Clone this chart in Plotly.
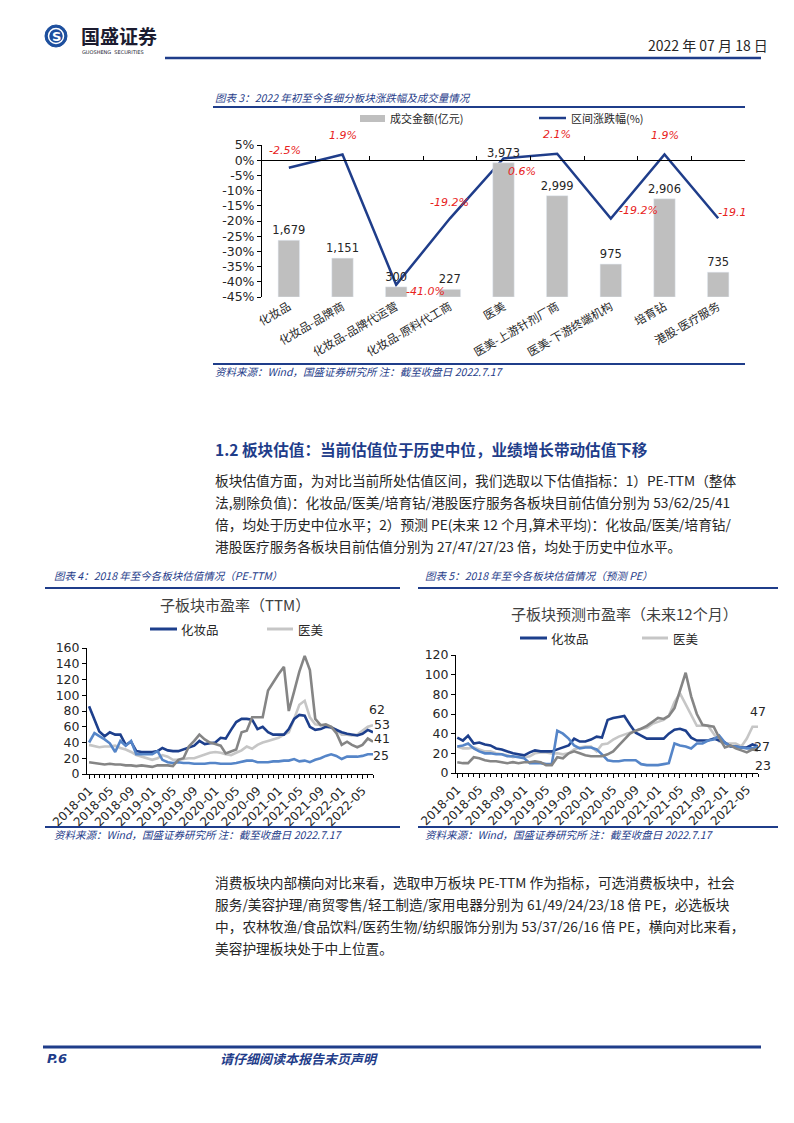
import plotly.graph_objects as go
import pandas as pd

# page is 794x1123; the browser adds an 8px body margin, so the figure is 786x1115
OFF = 8
W, H = 794 - OFF, 1123 - OFF
def X(p): return (p - OFF) / W
def Y(p): return 1 - (p - OFF) / H

CJK = "Noto Sans CJK SC"
LAT = "Tahoma, 'DejaVu Sans', 'Noto Sans CJK SC', sans-serif"
NAVY = "#1f3d8a"
TXT = "#262626"

# ---------------- Chart 1 data ----------------
categories = ["化妆品", "化妆品-品牌商", "化妆品-品牌代运营", "化妆品-原料代工商", "医美",
              "医美-上游针剂厂商", "医美-下游终端机构", "培育钻", "港股-医疗服务"]
turnover = [1679, 1151, 300, 227, 3973, 2999, 975, 2906, 735]
change_pct = [-2.5, 1.9, -41.0, -19.2, 0.6, 2.1, -19.2, 1.9, -19.1]
pct_ticks = [5, 0, -5, -10, -15, -20, -25, -30, -35, -40, -45]

# ---------------- Chart 4 / 5 data (monthly 2018-01 .. 2022-07) ----------------
months = [p.strftime("%Y-%m-01") for p in pd.period_range("2018-01", "2022-07", freq="M")]
tick_months = months[::4]
tick_labels = [m[:7] for m in tick_months]

cos_ttm = [86, 70, 54, 48, 53, 50, 50, 37, 41, 29, 28, 28, 28, 29, 33, 30, 29, 29, 31, 34,
           36, 42, 38, 39, 40, 46, 45, 56, 66, 70, 70, 69, 57, 60, 53, 50, 50, 50, 57, 70,
           75, 74, 60, 56, 57, 60, 59, 56, 53, 51, 50, 49, 51, 56, 53]
med_ttm = [37, 35, 34, 35, 35, 36, 33, 31, 28, 24, 22, 20, 18, 20, 24, 22, 18, 18, 19, 20,
           20, 22, 25, 27, 28, 27, 25, 24, 27, 30, 35, 32, 37, 40, 42, 44, 46, 50, 53, 70,
           88, 93, 72, 63, 62, 61, 60, 56, 50, 50, 49, 50, 55, 60, 62]
diam_ttm = [40, 52, 48, 44, 39, 28, 42, 36, 42, 25, 25, 25, 25, 29, 18, 15, 14, 15, 14, 14,
            13, 13, 13, 14, 14, 13, 13, 13, 14, 16, 17, 17, 15, 15, 15, 16, 16, 17, 17, 19,
            16, 17, 15, 18, 20, 23, 25, 23, 19, 22, 22, 22, 23, 25, 25]
hk_ttm = [15, 14, 13, 12, 13, 12, 12, 11, 11, 10, 11, 10, 9, 11, 11, 11, 10, 18, 20, 35,
          42, 50, 44, 40, 38, 36, 26, 29, 31, 53, 55, 72, 72, 72, 106, 117, 127, 136, 80, 105,
          130, 150, 132, 70, 62, 63, 60, 52, 37, 41, 37, 34, 37, 45, 41]

cos_fwd = [36, 33, 38, 30, 31, 29, 28, 25, 24, 22, 20, 19, 18, 21, 23, 22, 22, 22, 24, 26,
           28, 35, 32, 32, 34, 37, 36, 54, 56, 57, 58, 49, 41, 38, 35, 35, 35, 35, 40, 44,
           45, 43, 36, 33, 33, 33, 35, 33, 31, 27, 27, 26, 26, 29, 27]
med_fwd = [27, 25, 25, 26, 24, 22, 22, 20, 19, 18, 16, 17, 16, 17, 20, 21, 21, 20, 20, 19,
           20, 24, 26, 27, 27, 22, 29, 30, 34, 37, 39, 41, 43, 45, 46, 50, 52, 54, 58, 72,
           81, 70, 58, 48, 48, 48, 40, 32, 30, 30, 30, 27, 35, 47, 47]
diam_fwd = [27, 28, 30, 25, 22, 20, 20, 19, 19, 17, 17, 16, 15, 10, 10, 10, 9, 9, 43, 40,
            35, 28, 25, 26, 26, 24, 19, 13, 12, 12, 13, 13, 13, 9, 8, 8, 8, 9, 10, 30,
            28, 27, 25, 30, 30, 33, 34, 38, 31, 27, 27, 26, 25, 25, 27]
hk_fwd = [11, 10, 10, 16, 15, 13, 12, 12, 11, 10, 11, 10, 11, 11, 12, 11, 8, 8, 16, 15,
          20, 22, 20, 18, 17, 17, 17, 19, 22, 28, 34, 40, 43, 45, 48, 52, 56, 55, 58, 66,
          84, 102, 78, 60, 49, 48, 47, 36, 26, 28, 25, 23, 21, 24, 23]

C_COS, C_MED, C_DIAM, C_HK = "#1d3f8c", "#c6c6c6", "#5585c8", "#858585"

fig = go.Figure()

# ---------------- Chart 1 traces ----------------
fig.add_trace(go.Bar(x=categories, y=turnover, xaxis="x", yaxis="y2", width=0.4,
                     marker_color="#bfbfbf", text=[f"{v:,}" for v in turnover],
                     textposition="outside", cliponaxis=False, constraintext="none",
                     textfont=dict(family=LAT, size=11.5, color=TXT)))
fig.add_trace(go.Scatter(x=categories, y=change_pct, xaxis="x", yaxis="y", mode="lines",
                         line=dict(color=NAVY, width=2.5), cliponaxis=False))
fig.add_trace(go.Scatter(x=categories[-1:], y=change_pct[-1:], xaxis="x", yaxis="y", mode="text",
                         text=[f"{change_pct[-1]:.1f}%"], textposition="top right", cliponaxis=True,
                         textfont=dict(family=LAT, size=11, color="#e8231d", style="italic")))
# carrier for the bottom category labels
fig.add_trace(go.Scatter(x=categories, y=[-45] * len(categories), xaxis="x2", yaxis="y",
                         mode="markers", marker=dict(opacity=0), hoverinfo="skip"))

# ---------------- Chart 4 / 5 traces ----------------
for xa, ya, series in [("x3", "y3", [(med_ttm, C_MED), (cos_ttm, C_COS), (diam_ttm, C_DIAM), (hk_ttm, C_HK)]),
                       ("x4", "y4", [(med_fwd, C_MED), (cos_fwd, C_COS), (diam_fwd, C_DIAM), (hk_fwd, C_HK)])]:
    for vals, col in series:
        fig.add_trace(go.Scatter(x=months, y=vals, xaxis=xa, yaxis=ya, mode="lines",
                                 line=dict(color=col, width=2.6)))

y1_dom = [Y(297), Y(145)]
zero_pos = y1_dom[0] + (45 / 50) * (y1_dom[1] - y1_dom[0])
axfont = dict(family=LAT, size=12.5, color=TXT)

fig.update_layout(
    width=W, height=H, margin=dict(l=0, r=0, t=0, b=0, autoexpand=False), autosize=False,
    paper_bgcolor="white", plot_bgcolor="rgba(0,0,0,0)", showlegend=False,
    xaxis=dict(domain=[X(262), X(745)], anchor="free", position=zero_pos, type="category",
               categoryorder="array", categoryarray=categories, range=[-0.5, 8.5],
               showline=True, linecolor="#000", linewidth=1, ticks="inside", tickson="boundaries",
               ticklen=4, tickcolor="#000", showticklabels=False, showgrid=False, zeroline=False,
               automargin=False),
    xaxis2=dict(domain=[X(262), X(745)], anchor="y", type="category", categoryorder="array",
                categoryarray=categories, range=[-0.5, 8.5], showline=False, ticks="",
                tickangle=-30, tickfont=dict(family=CJK, size=11.5, color=TXT), showgrid=False,
                automargin=False),
    yaxis=dict(domain=y1_dom, anchor="x2", range=[-45, 5], tickvals=pct_ticks,
               ticktext=[f"{v}%" for v in pct_ticks], showline=True, linecolor="#000",
               ticks="outside", ticklen=4, tickcolor="#000", tickfont=axfont,
               showgrid=False, zeroline=False, automargin=False),
    yaxis2=dict(overlaying="y", anchor="x2", range=[0, 4500], visible=False, automargin=False),
    xaxis3=dict(domain=[X(87), X(373)], anchor="y3", type="date",
                range=["2017-12-20", "2022-07-01"], tickvals=tick_months, ticktext=tick_labels,
                tickangle=-45, ticks="outside", ticklen=4, tickcolor="#000", showline=True,
                linecolor="#000", showgrid=False, tickfont=dict(family=LAT, size=12, color=TXT),
                minor=dict(dtick="M1", ticks="outside", ticklen=3, tickcolor="#000", showgrid=False),
                automargin=False),
    yaxis3=dict(domain=[Y(774), Y(648)], anchor="x3", range=[0, 160], dtick=20,
                showline=True, linecolor="#000", ticks="outside", ticklen=4, tickcolor="#000",
                showgrid=False, zeroline=False, tickfont=axfont, automargin=False),
    xaxis4=dict(domain=[X(456), X(758)], anchor="y4", type="date",
                range=["2017-12-25", "2022-07-01"], tickvals=tick_months, ticktext=tick_labels,
                tickangle=-45, ticks="outside", ticklen=4, tickcolor="#000", showline=True,
                linecolor="#000", showgrid=False, tickfont=dict(family=LAT, size=12, color=TXT),
                minor=dict(dtick="M1", ticks="outside", ticklen=3, tickcolor="#000", showgrid=False),
                automargin=False),
    yaxis4=dict(domain=[Y(773), Y(655)], anchor="x4", range=[0, 120], dtick=20,
                showline=True, linecolor="#000", ticks="outside", ticklen=4, tickcolor="#000",
                showgrid=False, zeroline=False, tickfont=axfont, automargin=False),
)

shapes = []
ann = []

def line(x0, y0, x1, y1, color=NAVY, width=2):
    shapes.append(dict(type="line", xref="paper", yref="paper", x0=X(x0), y0=Y(y0),
                       x1=X(x1), y1=Y(y1), line=dict(color=color, width=width)))

def text(x, y, s, size=12, color=TXT, xanchor="left", family=CJK):
    ann.append(dict(xref="paper", yref="paper", x=X(x), y=Y(y), text=s, showarrow=False,
                    xanchor=xanchor, yanchor="middle", font=dict(family=family, size=size, color=color)))

# ---------------- Header ----------------
shapes.append(dict(type="circle", xref="paper", yref="paper", x0=X(45), x1=X(67), y0=Y(47), y1=Y(25),
                   fillcolor="#1d4f9e", line=dict(color="#1d4f9e", width=1)))
shapes.append(dict(type="circle", xref="paper", yref="paper", x0=X(48.5), x1=X(63.5), y0=Y(43.5), y1=Y(28.5),
                   fillcolor="rgba(0,0,0,0)", line=dict(color="white", width=1.5)))
text(56, 36.5, "<b>S</b>", 13, "white", "center", LAT)
text(79, 35, "<b>国盛证券</b>", 19, "#1c1c30")
text(80, 52, "GUOSHENG  SECURITIES", 5, "#1c1c30", family=LAT)
text(770, 45, "2022 年 07 月 18 日", 14, TXT, "right")
line(165, 58, 761, 58, NAVY, 2.5)

# ---------------- Chart 1 decorations ----------------
text(213, 97, "<i>图表 3：2022 年初至今各细分板块涨跌幅及成交量情况</i>", 10.5, NAVY)
line(213, 107, 745, 107, NAVY, 2)
shapes.append(dict(type="rect", xref="paper", yref="paper", x0=X(360), x1=X(385), y0=Y(122), y1=Y(115),
                   fillcolor="#bfbfbf", line=dict(width=0)))
text(388, 118, "成交金额(亿元)", 11, TXT)
line(539, 118, 566, 118, NAVY, 2.5)
text(569, 118, "区间涨跌幅(%)", 11, TXT)
label_offsets = [(-4, 17), (0, 19), (29, -7), (0, 16), (18, -13), (0, 19), (28, 8), (0, 19)]
for cat, v, (dx, dy) in zip(categories[:-1], change_pct[:-1], label_offsets):
    ann.append(dict(xref="x", yref="y", x=cat, y=v, text=f"<i>{v:.1f}%</i>", showarrow=False,
                    xshift=dx, yshift=dy, font=dict(family=LAT, size=11, color="#e8231d")))
line(213, 364, 745, 364, NAVY, 2)
text(213, 372, "<i>资料来源：Wind，国盛证券研究所 注：截至收盘日 2022.7.17</i>", 10.5, NAVY)

# ---------------- Section text ----------------
text(213, 449, "<b>1.2 板块估值：当前估值位于历史中位，业绩增长带动估值下移</b>", 15.6, NAVY)
para1 = ["板块估值方面，为对比当前所处估值区间，我们选取以下估值指标：1）PE-TTM（整体",
         "法,剔除负值)：化妆品/医美/培育钻/港股医疗服务各板块目前估值分别为 53/62/25/41",
         "倍，均处于历史中位水平；2）预测 PE(未来 12 个月,算术平均)：化妆品/医美/培育钻/",
         "港股医疗服务各板块目前估值分别为 27/47/27/23 倍，均处于历史中位水平。"]
for i, s in enumerate(para1):
    text(213, 480 + i * 22, s, 13.7, TXT)
para2 = ["消费板块内部横向对比来看，选取申万板块 PE-TTM 作为指标，可选消费板块中，社会",
         "服务/美容护理/商贸零售/轻工制造/家用电器分别为 61/49/24/23/18 倍 PE，必选板块",
         "中，农林牧渔/食品饮料/医药生物/纺织服饰分别为 53/37/26/16 倍 PE，横向对比来看，",
         "美容护理板块处于中上位置。"]
for i, s in enumerate(para2):
    text(213, 882 + i * 22, s, 13.7, TXT)

# ---------------- Chart 4 decorations ----------------
text(52, 575, "<i>图表 4：2018 年至今各板块估值情况（PE-TTM）</i>", 10.5, NAVY)
line(45, 588, 400, 588, NAVY, 2)
text(235, 604, "子板块市盈率（TTM）", 15, "#404040", "center")
line(150, 629, 177, 629, C_COS, 3)
text(179, 629, "化妆品", 12.5, TXT)
line(267, 629, 293, 629, C_MED, 3)
text(296, 629, "医美", 12.5, TXT)
for vals, dx, dy in [(med_ttm, 4, 16), (cos_ttm, 9, 8), (hk_ttm, 9, 3), (diam_ttm, 8, -1)]:
    ann.append(dict(xref="x3", yref="y3", x=months[-1], y=vals[-1], text=str(vals[-1]), showarrow=False,
                    xanchor="center", xshift=dx, yshift=dy, font=dict(family=LAT, size=12.5, color=TXT)))
line(45, 827, 400, 827, NAVY, 2)
text(52, 834, "<i>资料来源：Wind，国盛证券研究所 注：截至收盘日 2022.7.17</i>", 10.5, NAVY)

# ---------------- Chart 5 decorations ----------------
text(423, 575, "<i>图表 5：2018 年至今各板块估值情况（预测 PE）</i>", 10.5, NAVY)
line(418, 588, 778, 588, NAVY, 2)
text(624, 613, "子板块预测市盈率（未来12个月）", 15, "#404040", "center")
line(520, 638, 547, 638, C_COS, 3)
text(549, 638, "化妆品", 12.5, TXT)
line(642, 638, 668, 638, C_MED, 3)
text(671, 638, "医美", 12.5, TXT)
for vals, dx, dy in [(med_fwd, 0, 15), (cos_fwd, 4, 0), (hk_fwd, 5, -15)]:
    ann.append(dict(xref="x4", yref="y4", x=months[-1], y=vals[-1], text=str(vals[-1]), showarrow=False,
                    xanchor="center", xshift=dx, yshift=dy, font=dict(family=LAT, size=12.5, color=TXT)))
line(418, 827, 778, 827, NAVY, 2)
text(423, 834, "<i>资料来源：Wind，国盛证券研究所 注：截至收盘日 2022.7.17</i>", 10.5, NAVY)

# ---------------- Footer ----------------
line(43, 1047, 761, 1047, NAVY, 3)
text(45, 1058, "<b><i>P.6</i></b>", 13, NAVY, family=LAT)
text(218, 1058, "<b><i>请仔细阅读本报告末页声明</i></b>", 13, NAVY)

fig.update_layout(shapes=shapes, annotations=ann)
fig.write_html("out.html")
